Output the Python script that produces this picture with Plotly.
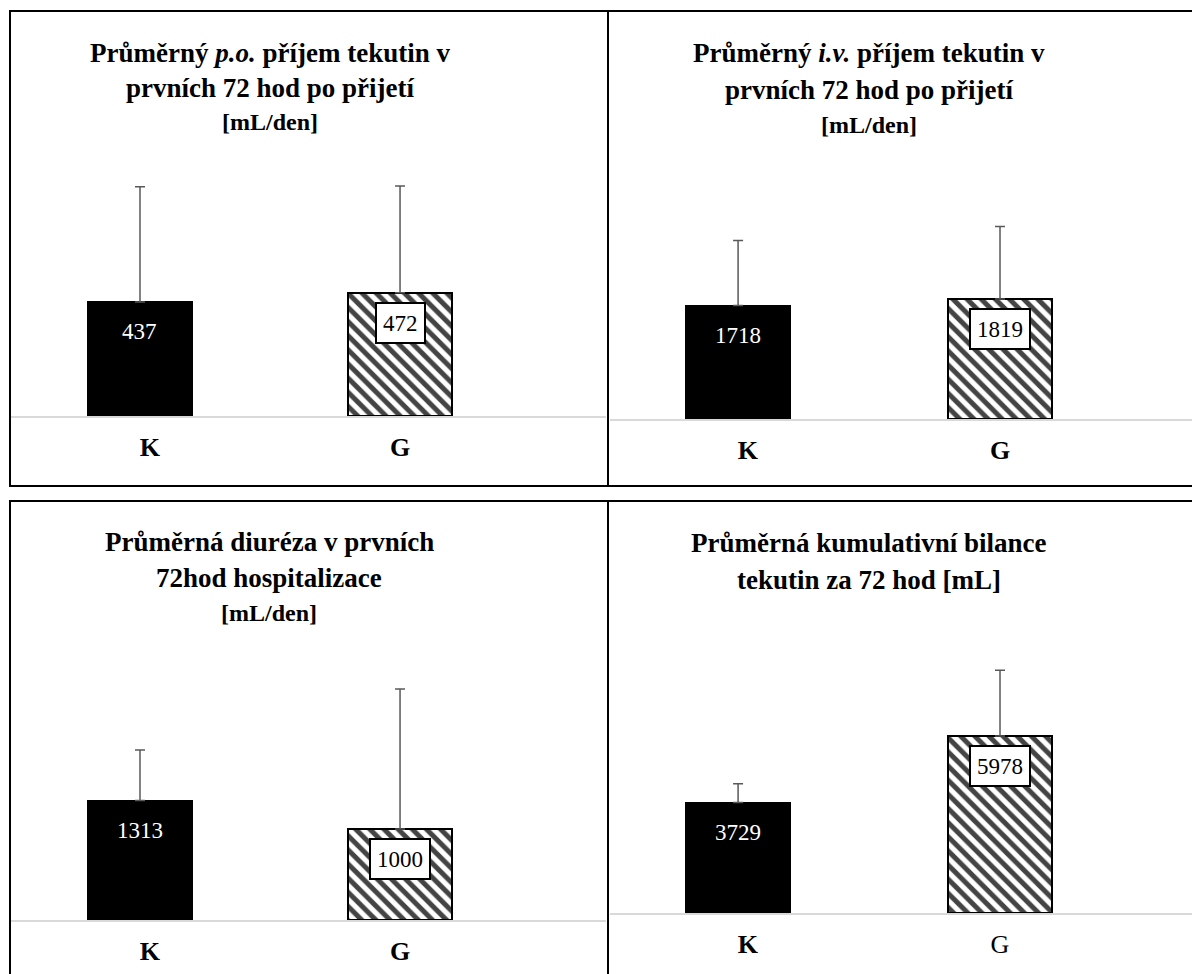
import plotly.graph_objects as go

# ---------------- data ----------------
categories = ["K", "G"]

po_means = [437, 472]
po_sd = [441, 409]

iv_means = [1718, 1819]
iv_sd = [987, 1099]

diur_means = [1313, 1000]
diur_sd = [555, 1538]

bal_means = [3729, 5978]
bal_sd = [640, 2220]

titles = [
    ["<b>Průměrný <i>p.o.</i> příjem tekutin v</b>", "<b>prvních 72 hod po přijetí</b>", "<b>[mL/den]</b>"],
    ["<b>Průměrný <i>i.v.</i> příjem tekutin v</b>", "<b>prvních 72 hod po přijetí</b>", "<b>[mL/den]</b>"],
    ["<b>Průměrná diuréza v prvních</b>", "<b>72hod hospitalizace</b>", "<b>[mL/den]</b>"],
    ["<b>Průměrná kumulativní bilance</b>", "<b>tekutin za 72 hod [mL]</b>"],
]
NB = "\u00a0\u00a0\u00a0"
tick_texts = [
    [NB + "<b>K</b>", "<b>G</b>"],
    [NB + "<b>K</b>", "<b>G</b>"],
    [NB + "<b>K</b>", "<b>G</b>"],
    [NB + "<b>K</b>", "G"],
]

# ---------------- layout helpers ----------------
W, H = 1192, 974
FONT = "Liberation Serif, Times New Roman, serif"


def px_x(p):
    return p / W


def px_y(p):
    return 1 - p / H


panels = [
    dict(m=po_means, s=po_sd, xd=(11, 606), yd=(140, 416), xr=(-0.496, 1.792), ymax=1057),
    dict(m=iv_means, s=iv_sd, xd=(610, 1192), yd=(140, 419), xr=(-0.489, 1.733), ymax=4227),
    dict(m=diur_means, s=diur_sd, xd=(11, 606), yd=(640, 920), xr=(-0.496, 1.792), ymax=3077),
    dict(m=bal_means, s=bal_sd, xd=(610, 1192), yd=(640, 913), xr=(-0.489, 1.733), ymax=9223),
]
title_pos = [
    (270, [53, 88, 122]),
    (869, [53, 90, 125]),
    (269, [542, 578, 613]),
    (869, [543, 580]),
]

fig = go.Figure()
annotations = []
layout = {}

for i, p in enumerate(panels):
    n = "" if i == 0 else str(i + 1)
    xa, ya = "x" + n, "y" + n
    fig.add_trace(go.Bar(
        x=[0, 1], y=p["m"], xaxis=xa, yaxis=ya, width=0.4,
        marker=dict(
            color=["black", "white"],
            line=dict(color="black", width=2),
            pattern=dict(shape=["", "\\"], fgcolor="black", bgcolor="white",
                         fgopacity=1, size=10, solidity=0.5),
        ),
        error_y=dict(type="data", symmetric=False, array=p["s"], arrayminus=[0, 0],
                     color="#595959", thickness=1.5, width=5),
        showlegend=False, hoverinfo="skip",
    ))
    layout["xaxis" + n] = dict(
        domain=[px_x(p["xd"][0]), px_x(p["xd"][1])], anchor=ya, range=list(p["xr"]),
        tickvals=[0, 1], ticktext=tick_texts[i], showgrid=False, zeroline=False,
        showline=True, linecolor="#d9d9d9", linewidth=2, ticks="",
        tickfont=dict(family=FONT, size=26, color="black"), ticklabelstandoff=7,
        fixedrange=True,
    )
    layout["yaxis" + n] = dict(
        domain=[px_y(p["yd"][1]), px_y(p["yd"][0])], anchor=xa, range=[0, p["ymax"]],
        showgrid=False, zeroline=False, showline=False, showticklabels=False,
        fixedrange=True,
    )
    annotations.append(dict(
        x=0, y=p["m"][0], xref=xa, yref=ya, text=str(p["m"][0]), showarrow=False,
        yanchor="middle", yshift=-30, font=dict(family=FONT, size=23, color="white"),
    ))
    annotations.append(dict(
        x=1, y=p["m"][1], xref=xa, yref=ya, text=str(p["m"][1]), showarrow=False,
        yanchor="middle", yshift=-30, font=dict(family=FONT, size=23, color="black"),
        bgcolor="white", bordercolor="black", borderwidth=2, borderpad=6, height=26,
    ))
    cx, ys = title_pos[i]
    for j, (line, yy) in enumerate(zip(titles[i], ys)):
        size = 24 if line == "<b>[mL/den]</b>" else 27
        annotations.append(dict(
            x=px_x(cx), y=px_y(yy), xref="paper", yref="paper", text=line,
            showarrow=False, xanchor="center", yanchor="middle",
            font=dict(family=FONT, size=size, color="black"),
        ))

shapes = []
def hline(y, x0, x1):
    shapes.append(dict(type="line", xref="paper", yref="paper", x0=px_x(x0), x1=px_x(x1),
                       y0=px_y(y), y1=px_y(y), line=dict(color="black", width=2)))

def vline(x, y0, y1):
    shapes.append(dict(type="line", xref="paper", yref="paper", x0=px_x(x), x1=px_x(x),
                       y0=px_y(y0), y1=px_y(y1), line=dict(color="black", width=2)))

hline(11, 9, W)
hline(486, 9, W)
hline(501, 9, W)
vline(10, 10, 487)
vline(608, 10, 487)
vline(10, 500, H)
vline(608, 500, H)

fig.update_layout(
    width=W, height=H, margin=dict(l=0, r=0, t=0, b=0),
    paper_bgcolor="white", plot_bgcolor="white",
    annotations=annotations, shapes=shapes, bargap=0, **layout,
)

fig.write_html(
    "out.html",
    config={"displayModeBar": False},
    post_script="document.body.style.margin='0';document.body.style.overflow='hidden';",
)
